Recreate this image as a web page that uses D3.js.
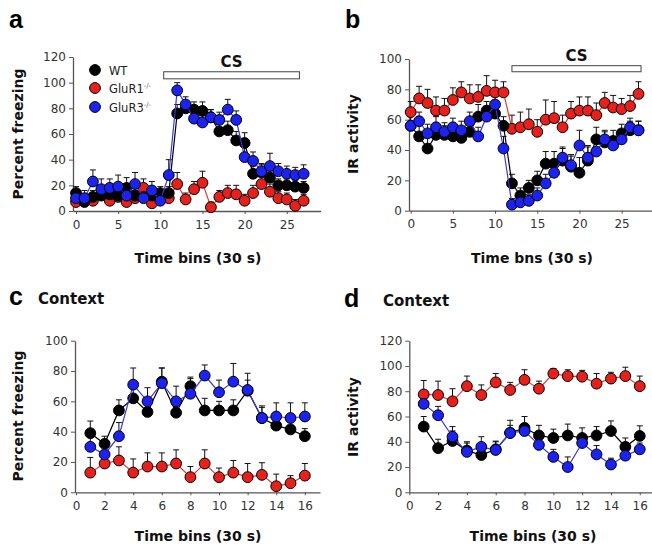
<!DOCTYPE html>
<html><head><meta charset="utf-8">
<script src="https://cdnjs.cloudflare.com/ajax/libs/d3/7.8.5/d3.min.js"></script>
<style>
body{margin:0;background:#fff}
svg{display:block}
text{font-family:"DejaVu Sans",sans-serif}
</style>
</head><body>
<svg id="chart" width="652" height="554"></svg>
<script>
// ---------- DATA ----------
const binsAB = [0,1,2,3,4,5,6,7,8,9,10,11,12,13,14,15,16,17,18,19,20,21,22,23,24,25,26,27];
const binsCD = [1,2,3,4,5,6,7,8,9,10,11,12,13,14,15,16];
const seriesNames = ["WT","GluR1","GluR3"];
const knockoutSup = "-/-";

// panel a: percent freezing (CS)
const aWT     = [14,7,11,12,13,12,18,12,11,12,14,14,76,80,79,78,73,62,63,55,53,29,30,26,20,20,19,18];
const aWTErr  = [5,4,5,6,5,6,8,6,6,5,5,5,7,6,6,7,6,6,7,7,8,6,6,6,5,5,5,5];
const aR1     = [7,9,8,13,8,11,7,10,18,6,11,10,21,9,17,22,3,11,14,13,8,14,21,15,10,9,4,8];
const aR1Err  = [5,4,5,5,5,6,5,6,7,5,5,6,9,5,6,9,4,5,6,7,5,6,6,6,5,5,5,5];
const aR3     = [10,10,23,17,18,19,12,21,10,16,8,28,94,83,72,69,73,71,79,71,42,39,31,35,31,29,28,29];
const aR3Err  = [6,6,9,8,7,9,8,9,7,7,6,12,6,6,6,6,6,6,8,7,8,7,6,10,6,6,6,7];

// panel b: IR activity (CS)
const bWT     = [56,49,41,50,50,49,48,52,62,66,64,56,18,10,15,20,31,31,33,29,25,33,47,45,46,51,53,53];
const bWTErr  = [6,13,9,6,6,6,6,6,8,6,6,6,6,5,5,6,8,8,8,8,10,10,8,7,7,6,6,6];
const bR1     = [65,74,71,66,66,73,78,74,75,79,78,78,54,55,57,52,60,61,55,64,66,66,63,71,68,67,69,77];
const bR1Err  = [7,8,9,9,8,8,7,9,8,10,8,7,9,10,10,8,13,11,8,8,9,9,8,7,8,7,7,8];
const bR3     = [56,59,51,55,52,55,53,59,49,62,70,41,4,5.5,6.5,10,18,25,35,30,43,35,39,47,43,47,55,53];
const bR3Err  = [6,6,6,7,6,6,6,6,6,7,6,8,4,4,4,5,6,6,7,6,10,7,6,6,6,6,6,6];

// panel c: percent freezing (context)
const cWT     = [39,32,54,62,53,73,52.5,70,54,54,54,67,49,44,41.5,37];
const cWTErr  = [8,5,7,9,6,9,6,6,8,6,7,7,8,6,6,5];
const cR1     = [13,19,21,13,17,17,19,10,19,10,13,10,11.5,4,6,11];
const cR1Err  = [10,7,9,9,9,9,9,7,9,6,8,9,8,8,5,8];
const cR3     = [30,25,37,71,60,72,60,65,77,66,73,67.5,49,50,49,50];
const cR3Err  = [8,7,9,11,9,10,10,10,7,8,12,11,7,9,10,9];

// panel d: IR activity (context)
const dWT     = [52,35,40.6,33,29.5,34,47,51,45,43,45,43,45,48.5,36,44.6];
const dWTErr  = [8,7,8,7,6,6,10,9,8,7,9,8,7,8,7,8];
const dR1     = [77.5,77,72,84,77,87,81,89,82,94,92,91.5,86,90,92,84];
const dR1Err  = [11,11,10,8,8,7,6,8,6,4,5,5,8,5,7,8];
const dR3     = [70,61,44,32,36,33.5,47,48.5,37.5,28,20,39,30,22,29,34];
const dR3Err  = [6,7,8,7,8,7,6,6,6,6,8,7,7,5,4,5];

const ticksX_AB = [0,5,10,15,20,25];
const ticksX_CD = [0,2,4,6,8,10,12,14,16];
const ticksY120 = [0,20,40,60,80,100,120];
const ticksY100 = [0,20,40,60,80,100];

// CS stimulus span (bins) and bar band (y units)
const csA = {from:10.4, to:26.5, y0:103, y1:108.5};
const csB = {from:12.0, to:27.3, y0:91.6, y1:95.6};

// ---------- STYLE ----------
const fillCol = {WT:"#000000", GluR1:"#e8201c", GluR3:"#1c22f2"};
const lineCol = {WT:"#000000", GluR1:"#e23a32", GluR3:"#3a3ad0"};
const R = 5.4;

const svg = d3.select("#chart");

function panel(cfg){
  const g = svg.append("g");
  const x = d3.scaleLinear().domain(cfg.xDom).range(cfg.xRange);
  const y = d3.scaleLinear().domain(cfg.yDom).range(cfg.yRange);

  const yAx = g.append("g").attr("transform",`translate(${cfg.xRange[0]},0)`)
    .call(d3.axisLeft(y).tickValues(cfg.yTicks).tickSize(4).tickSizeOuter(0).tickPadding(3));
  const xAx = g.append("g").attr("transform",`translate(0,${y(0)})`)
    .call(d3.axisBottom(x).tickValues(cfg.xTicks).tickSize(3).tickSizeOuter(0).tickPadding(6));
  [yAx,xAx].forEach(a=>{
    a.select(".domain").attr("stroke","#555").attr("stroke-width",1.3);
    a.selectAll(".tick line").attr("stroke","#555");
    a.selectAll(".tick text").attr("fill","#333").style("font-size","12px")
      .style("font-family","'DejaVu Sans',sans-serif");
  });

  // CS bar
  if(cfg.cs){
    g.append("rect").attr("x",x(cfg.cs.from)).attr("y",y(cfg.cs.y1))
      .attr("width",x(cfg.cs.to)-x(cfg.cs.from)).attr("height",y(cfg.cs.y0)-y(cfg.cs.y1))
      .attr("fill","#fff").attr("stroke","#444").attr("stroke-width",1);
    g.append("text").attr("x",(x(cfg.cs.from)+x(cfg.cs.to))/2).attr("y",cfg.csTextY)
      .attr("text-anchor","middle").attr("font-weight","bold").style("font-size","15px").attr("fill","#111")
      .text("CS");
  }

  // error bars (up only)
  cfg.series.forEach(s=>{
    const eg = g.append("g").attr("stroke","#111").attr("stroke-width",1);
    s.vals.forEach((v,i)=>{
      const cx = x(cfg.bins[i]), top = y(v + s.err[i]);
      eg.append("line").attr("x1",cx).attr("x2",cx).attr("y1",y(v)).attr("y2",top);
      eg.append("line").attr("x1",cx-3).attr("x2",cx+3).attr("y1",top).attr("y2",top);
    });
  });

  // lines + points
  cfg.series.forEach(s=>{
    const pts = s.vals.map((v,i)=>[x(cfg.bins[i]), y(v)]);
    g.append("path").attr("d", d3.line()(pts)).attr("fill","none")
      .attr("stroke",lineCol[s.name]).attr("stroke-width",1.2);
    g.append("g").selectAll("circle").data(pts).join("circle")
      .attr("cx",d=>d[0]).attr("cy",d=>d[1]).attr("r",R)
      .attr("fill",fillCol[s.name]).attr("stroke","#000").attr("stroke-width",1);
  });

  // titles
  g.append("text").attr("transform",`translate(${cfg.yTitleX},${cfg.yTitleY}) rotate(-90)`)
    .attr("text-anchor","middle").attr("font-weight","bold").style("font-size","14px").attr("fill","#111")
    .text(cfg.yTitle);
  g.append("text").attr("x",cfg.xTitleX).attr("y",cfg.xTitleY)
    .attr("text-anchor","middle").attr("font-weight","bold").style("font-size","14px").attr("fill","#111")
    .text(cfg.xTitle);
  g.append("text").attr("x",cfg.letterX).attr("y",cfg.letterY)
    .attr("font-weight","bold").style("font-size","25px").style("font-family","'Liberation Sans',Arial,sans-serif")
    .attr("fill","#000").text(cfg.letter);
  if(cfg.sub){
    g.append("text").attr("x",cfg.subX).attr("y",cfg.letterY-1)
      .attr("font-weight","bold").style("font-size","15px").attr("fill","#111").text(cfg.sub);
  }
  return {x,y,g};
}

const A = panel({
  letter:"a", letterX:9, letterY:28,
  bins:binsAB, xDom:[-0.36,29], xRange:[73,320.5], yDom:[0,120], yRange:[211,57],
  xTicks:ticksX_AB, yTicks:ticksY120,
  cs:csA, csTextY:67,
  yTitle:"Percent freezing", yTitleX:23, yTitleY:134,
  xTitle:"Time bins (30 s)", xTitleX:198, xTitleY:263,
  series:[
    {name:"GluR1", vals:aR1, err:aR1Err},
    {name:"WT", vals:aWT, err:aWTErr},
    {name:"GluR3", vals:aR3, err:aR3Err}
  ]
});

panel({
  letter:"b", letterX:345, letterY:28,
  bins:binsAB, xDom:[-0.2,28.6], xRange:[409,652], yDom:[0,100], yRange:[210.7,59],
  xTicks:ticksX_AB, yTicks:ticksY100,
  cs:csB, csTextY:61,
  yTitle:"IR activity", yTitleX:358, yTitleY:134,
  xTitle:"Time bns (30 s)", xTitleX:532, xTitleY:263,
  series:[
    {name:"GluR1", vals:bR1, err:bR1Err},
    {name:"WT", vals:bWT, err:bWTErr},
    {name:"GluR3", vals:bR3, err:bR3Err}
  ]
});

panel({
  letter:"c", letterX:9, letterY:305, sub:"Context", subX:38,
  bins:binsCD, xDom:[-0.07,17.06], xRange:[75,320], yDom:[0,100], yRange:[492.3,340.7],
  xTicks:ticksX_CD, yTicks:ticksY100,
  yTitle:"Percent freezing", yTitleX:23, yTitleY:416,
  xTitle:"Time bins (30 s)", xTitleX:198, xTitleY:541,
  series:[
    {name:"GluR1", vals:cR1, err:cR1Err},
    {name:"WT", vals:cWT, err:cWTErr},
    {name:"GluR3", vals:cR3, err:cR3Err}
  ]
});

panel({
  letter:"d", letterX:344, letterY:307, sub:"Context", subX:383,
  bins:binsCD, xDom:[0,16.85], xRange:[409.3,652], yDom:[0,120], yRange:[492.3,340.7],
  xTicks:ticksX_CD, yTicks:ticksY120,
  yTitle:"IR activity", yTitleX:358, yTitleY:417,
  xTitle:"Time bins (30 s)", xTitleX:533, xTitleY:541,
  series:[
    {name:"GluR1", vals:dR1, err:dR1Err},
    {name:"WT", vals:dWT, err:dWTErr},
    {name:"GluR3", vals:dR3, err:dR3Err}
  ]
});

// legend in panel a
const legY = [70,88,107];
const leg = svg.append("g");
seriesNames.forEach((n,i)=>{
  leg.append("circle").attr("cx",95).attr("cy",legY[i]).attr("r",R)
    .attr("fill",fillCol[n]).attr("stroke","#000").attr("stroke-width",1);
  const t = leg.append("text").attr("x",109).attr("y",legY[i]+4.5)
    .style("font-size","11.5px").attr("fill","#222").text(n);
  if(n!=="WT"){
    t.append("tspan").attr("dy",-5).style("font-size","7px").attr("fill","#666").text(knockoutSup);
  }
});
</script>
</body></html>
